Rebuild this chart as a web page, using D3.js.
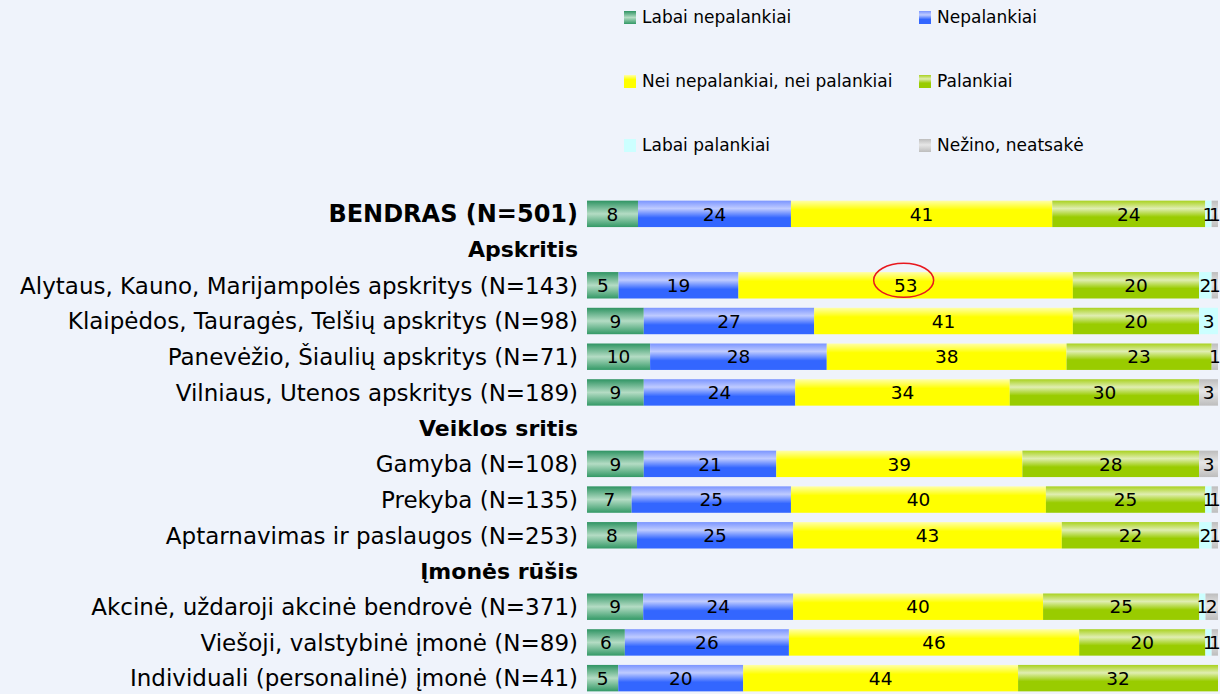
<!DOCTYPE html>
<html>
<head>
<meta charset="utf-8">
<title>Vertinimas</title>
<script src="https://d3js.org/d3.v7.min.js"></script>
<style>
  body { margin: 0; background: #eff3fb; }
  svg { display: block; font-family: "DejaVu Sans", Verdana, sans-serif; }
</style>
</head>
<body>
<svg id="chart" width="1220" height="694"></svg>
<script>
// rows of the chart, top to bottom (headers have no bar)
var rowLabels = ["BENDRAS (N=501)", "Apskritis",
  "Alytaus, Kauno, Marijampolės apskritys (N=143)",
  "Klaipėdos, Tauragės, Telšių apskritys (N=98)",
  "Panevėžio, Šiaulių apskritys (N=71)",
  "Vilniaus, Utenos apskritys (N=189)",
  "Veiklos sritis",
  "Gamyba (N=108)", "Prekyba (N=135)", "Aptarnavimas ir paslaugos (N=253)",
  "Įmonės rūšis",
  "Akcinė, uždaroji akcinė bendrovė (N=371)",
  "Viešoji, valstybinė įmonė (N=89)",
  "Individuali (personalinė) įmonė (N=41)"];
var headers = ["BENDRAS (N=501)", "Apskritis", "Veiklos sritis", "Įmonės rūšis"];
var barRows = rowLabels.filter(function(d) { return headers.indexOf(d) < 0 || d == "BENDRAS (N=501)"; });

var seriesNames = ["Labai nepalankiai", "Nepalankiai", "Nei nepalankiai, nei palankiai",
  "Palankiai", "Labai palankiai", "Nežino, neatsakė"];

// values in barRows order
var labaiNepalankiai = [8, 5, 9, 10, 9, 9, 7, 8, 9, 6, 5];
var nepalankiai      = [24, 19, 27, 28, 24, 21, 25, 25, 24, 26, 20];
var neiNei           = [41, 53, 41, 38, 34, 39, 40, 43, 40, 46, 44];
var palankiai        = [24, 20, 20, 23, 30, 28, 25, 22, 25, 20, 32];
var labaiPalankiai   = [1, 2, 3, 0, 0, 0, 1, 2, 1, 1, 0];
var nezino           = [1, 1, 0, 1, 3, 3, 1, 1, 2, 1, 0];

var seriesValues = [labaiNepalankiai, nepalankiai, neiNei, palankiai, labaiPalankiai, nezino];

var colors = [
  [["0", "#2f9463"], ["0.5", "#b4dcc4"], ["1", "#339966"]],
  [["0", "#7b95ff"], ["0.3", "#bfcbff"], ["0.65", "#3366ff"], ["1", "#3366ff"]],
  [["0", "#ffffa8"], ["0.35", "#ffff00"], ["1", "#ffff00"]],
  [["0", "#a9d21f"], ["0.3", "#e0eeb2"], ["0.62", "#99cc00"], ["1", "#99cc00"]],
  [["0", "#ccffff"], ["1", "#ccffff"]],
  [["0", "#bdbdbd"], ["0.45", "#e6e6e6"], ["1", "#bdbdbd"]]
];

var svg = d3.select("#chart");
var defs = svg.append("defs");
colors.forEach(function(stops, i) {
  var g = defs.append("linearGradient").attr("id", "grad" + i)
      .attr("x1", 0).attr("y1", 0).attr("x2", 0).attr("y2", 1);
  stops.forEach(function(s) {
    g.append("stop").attr("offset", s[0]).attr("stop-color", s[1]);
  });
});

var y = d3.scaleBand().domain(rowLabels).range([196, 696])
    .paddingInner(0.26).paddingOuter(0.13);
var x = d3.scaleLinear().domain([0, 1]).range([587, 1218]);

function labelSize(d) {
  if (d == "BENDRAS (N=501)") return "24px";
  return headers.indexOf(d) >= 0 ? "22px" : "23px";
}

// category labels
svg.selectAll(".cat")
  .data(rowLabels)
  .enter().append("text")
    .attr("class", "cat")
    .attr("x", 578)
    .attr("y", function(d) { return y(d) + y.bandwidth() / 2; })
    .attr("dy", "0.36em")
    .attr("text-anchor", "end")
    .style("font-size", labelSize)
    .style("font-weight", function(d) { return headers.indexOf(d) >= 0 ? "bold" : "normal"; })
    .attr("fill", "#000")
    .text(function(d) { return d; });

// stacked segments
var segs = [];
barRows.forEach(function(row, r) {
  var total = d3.sum(seriesValues, function(s) { return s[r]; });
  var acc = 0;
  seriesValues.forEach(function(s, i) {
    var v = s[r];
    segs.push({row: row, series: i, value: v, x0: acc / total, x1: (acc + v) / total});
    acc += v;
  });
});

svg.selectAll(".seg")
  .data(segs.filter(function(d) { return d.value > 0; }))
  .enter().append("rect")
    .attr("class", "seg")
    .attr("x", function(d) { return x(d.x0); })
    .attr("y", function(d) { return y(d.row); })
    .attr("width", function(d) { return x(d.x1) - x(d.x0); })
    .attr("height", y.bandwidth())
    .attr("fill", function(d) { return "url(#grad" + d.series + ")"; });

svg.selectAll(".val")
  .data(segs.filter(function(d) { return d.value > 0; }))
  .enter().append("text")
    .attr("class", "val")
    .attr("x", function(d) { return (x(d.x0) + x(d.x1)) / 2; })
    .attr("y", function(d) { return y(d.row) + y.bandwidth() / 2; })
    .attr("dy", "0.36em")
    .attr("text-anchor", "middle")
    .style("font-size", "18.5px")
    .attr("fill", "#000")
    .text(function(d) { return d.value; });

// red circle on the highlighted value
var hl = segs.filter(function(d) { return d.row == rowLabels[2] && d.series == 2; })[0];
svg.append("ellipse")
    .attr("cx", (x(hl.x0) + x(hl.x1)) / 2 - 2)
    .attr("cy", y(hl.row) + y.bandwidth() / 2 - 5)
    .attr("rx", 30)
    .attr("ry", 17)
    .attr("fill", "none")
    .attr("stroke", "#e8181e")
    .attr("stroke-width", 1.5);

// legend
var legend = svg.selectAll(".leg")
  .data(seriesNames)
  .enter().append("g")
    .attr("class", "leg")
    .attr("transform", function(d, i) {
      return "translate(" + (i % 2 ? 919 : 624) + "," + (17 + Math.floor(i / 2) * 64) + ")";
    });
legend.append("rect")
    .attr("x", 0).attr("y", -6)
    .attr("width", 12).attr("height", 13)
    .attr("fill", function(d, i) { return "url(#grad" + i + ")"; });
legend.append("text")
    .attr("x", 18)
    .attr("dy", "0.36em")
    .style("font-size", "17px")
    .attr("fill", "#000")
    .text(function(d) { return d; });
</script>
</body>
</html>
